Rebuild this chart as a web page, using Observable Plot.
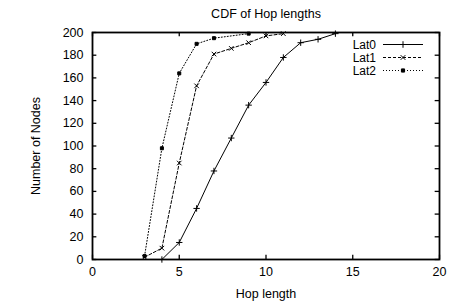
<!DOCTYPE html>
<html>
<head>
<meta charset="utf-8">
<script src="https://cdn.jsdelivr.net/npm/d3@7"></script>
<script src="https://cdn.jsdelivr.net/npm/@observablehq/plot@0.6"></script>
<style>
  html, body { margin: 0; padding: 0; background: #fff; }
  #chart svg { display: block; font-family: "Liberation Sans", Arial, sans-serif; }
</style>
</head>
<body>
<div id="chart"></div>
<script>
const title = "CDF of Hop lengths";
const xLabel = "Hop length";
const yLabel = "Number of Nodes";
const seriesNames = ["Lat0", "Lat1", "Lat2"];

const hops0 = [4, 5, 6, 7, 8, 9, 10, 11, 12, 13, 14];
const lat0  = [0, 15, 45, 78, 107, 136, 156, 178, 191, 194, 199];

const hops1 = [3, 4, 5, 6, 7, 8, 9, 10, 11];
const lat1  = [2, 10, 85, 153, 181, 186, 191, 197, 199];

const hops2 = [3, 4, 5, 6, 7, 9];
const lat2  = [3, 98, 164, 190, 195, 199];

const xTicks = [0, 5, 10, 15, 20];
const yTicks = [0, 20, 40, 60, 80, 100, 120, 140, 160, 180, 200];

const rows = (hops, vals, name) => hops.map((h, i) => ({hop: h, n: vals[i], series: name}));
const d0 = rows(hops0, lat0, seriesNames[0]);
const d1 = rows(hops1, lat1, seriesNames[1]);
const d2 = rows(hops2, lat2, seriesNames[2]);

const styles = [
  {dash: null, symbol: "plus", r: 2.2, fill: "none"},
  {dash: "3,2", symbol: "times", r: 2.2, fill: "none"},
  {dash: "1,2", symbol: "square", r: 1.7, fill: "black"}
];

const FS = 12.5;
const datasets = [d0, d1, d2];
const marks = [];
datasets.forEach((d, i) => {
  const s = styles[i];
  marks.push(Plot.line(d, {x: "hop", y: "n", stroke: "black", strokeWidth: 1, strokeDasharray: s.dash}));
  marks.push(Plot.dot(d, {x: "hop", y: "n", symbol: () => s.symbol, r: s.r, stroke: "black", strokeWidth: 1, fill: s.fill}));
});

const chart = Plot.plot({
  width: 474,
  height: 304,
  marginLeft: 92,
  marginRight: 35,
  marginTop: 32,
  marginBottom: 45,
  style: {fontFamily: "Liberation Sans, Arial, sans-serif", fontSize: FS + "px", color: "black", background: "white"},
  x: {domain: [0, 20]},
  y: {domain: [0, 200]},
  symbol: {type: "identity"},
  marks: [
    Plot.axisX({ticks: xTicks, tickSize: 0, tickPadding: 8, fontSize: FS, label: xLabel, labelAnchor: "center", labelArrow: "none", labelOffset: 38}),
    Plot.axisY({ticks: yTicks, tickSize: 0, tickPadding: 9, fontSize: FS, label: yLabel, labelAnchor: "center", labelArrow: "none", labelOffset: 61}),
    // inward gnuplot-style ticks (bottom/top, left/right)
    Plot.ruleX(xTicks, {x: d => d, y1: 0, y2: 3.8, stroke: "black", strokeWidth: 1.3}),
    Plot.ruleX(xTicks, {x: d => d, y1: 200, y2: 196.2, stroke: "black", strokeWidth: 1.3}),
    Plot.ruleY(yTicks, {y: d => d, x1: 0, x2: 0.25, stroke: "black", strokeWidth: 1.3}),
    Plot.ruleY(yTicks, {y: d => d, x1: 20, x2: 19.75, stroke: "black", strokeWidth: 1.3}),
    ...marks,
    Plot.frame({stroke: "black", strokeWidth: 1.8}),
    Plot.text([title], {frameAnchor: "top", dy: -23, fontSize: FS, fill: "black"})
  ]
});

// Legend (gnuplot-style key, inside top-right)
const svg = d3.select(chart);
const LFS = 12;
const key = svg.append("g").attr("font-family", "Liberation Sans, Arial, sans-serif").attr("font-size", LFS);
const symbolPaths = {
  plus: d3.symbol(d3.symbolPlus, 16)(),
  times: d3.symbol(d3.symbolTimes, 16)(),
  square: d3.symbol(d3.symbolSquare, 10)()
};
seriesNames.forEach((name, i) => {
  const yc = 44.5 + i * 13;
  const s = styles[i];
  key.append("text").attr("x", 376).attr("y", yc).attr("dy", "0.35em").attr("text-anchor", "end").attr("fill", "black").text(name);
  key.append("line").attr("x1", 383).attr("x2", 423).attr("y1", yc).attr("y2", yc)
    .attr("stroke", "black").attr("stroke-width", 1).attr("stroke-dasharray", s.dash);
  key.append("path").attr("d", symbolPaths[s.symbol]).attr("transform", `translate(403,${yc})`)
    .attr("stroke", "black").attr("fill", s.fill).attr("stroke-width", 1);
});

document.getElementById("chart").appendChild(chart);
</script>
</body>
</html>
